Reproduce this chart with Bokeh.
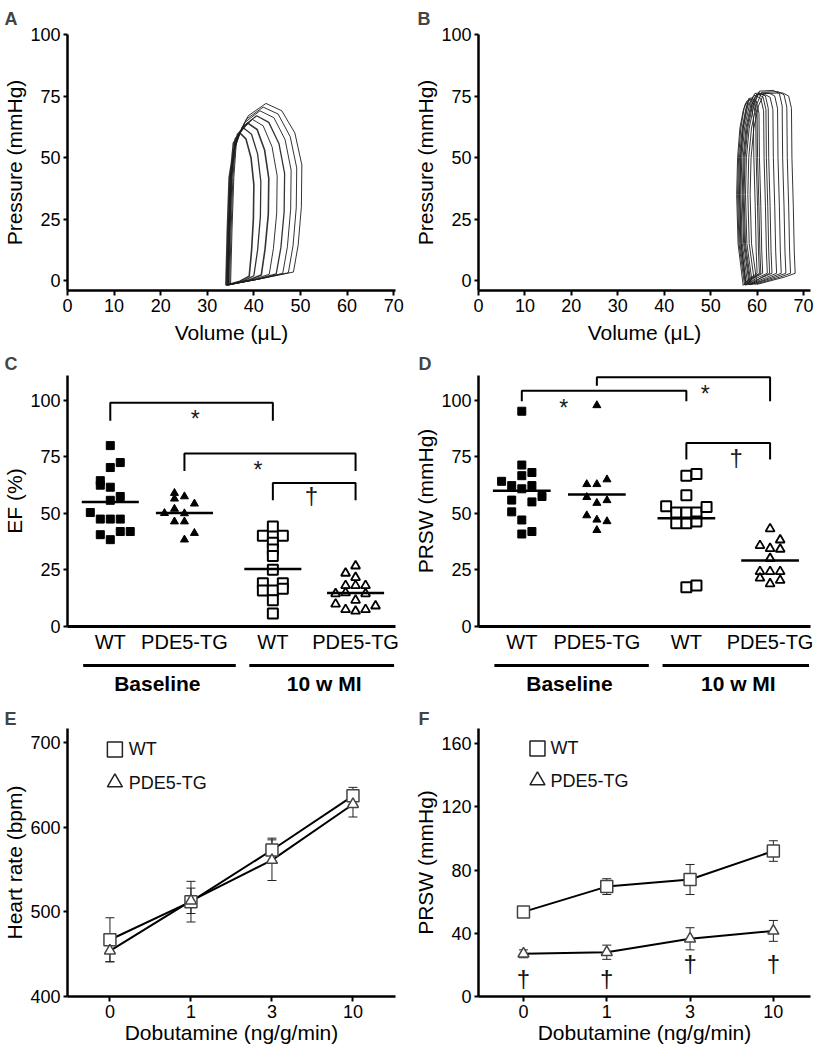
import numpy as np
from bokeh.plotting import figure
from bokeh.layouts import column, row
from bokeh.models import Range1d, Whisker, TeeHead, ColumnDataSource
from bokeh.core.properties import value
from bokeh.embed import file_html
from bokeh.resources import INLINE

FONT = "Liberation Sans"

# ---------------- DATA ----------------
# Panel A: PV loops, WT (volume uL, pressure mmHg)
A_loops_V = [
    [35.0, 35.3, 35.7, 36.3, 38.8, 42.6, 46.0, 48.8, 50.3, 50.2, 49.5, 48.5, 42.0, 35.0],
    [34.8, 35.1, 35.5, 36.1, 38.4, 42.0, 45.2, 47.8, 49.2, 49.1, 48.4, 47.4, 41.5, 34.8],
    [34.6, 34.9, 35.3, 35.9, 38.0, 41.3, 44.3, 46.7, 48.0, 47.9, 47.2, 46.2, 41.0, 34.6],
    [34.5, 34.8, 35.2, 35.8, 37.5, 40.6, 43.2, 45.4, 46.6, 46.5, 45.8, 44.8, 40.5, 34.5],
    [34.4, 34.7, 35.1, 35.7, 37.1, 39.7, 42.0, 43.9, 45.0, 44.9, 44.2, 43.3, 39.7, 34.4],
    [34.3, 34.6, 35.0, 35.6, 36.5, 38.7, 40.7, 42.3, 43.2, 43.1, 42.4, 41.6, 38.8, 34.3],
    [34.2, 34.5, 34.9, 35.5, 36.0, 37.8, 39.5, 40.8, 41.5, 41.4, 40.8, 40.0, 37.9, 34.2],
    [34.0, 34.3, 34.7, 35.2, 35.6, 37.0, 38.3, 39.4, 40.0, 39.9, 39.5, 39.0, 37.0, 34.0],
]
A_loops_P = [
    [-1.5, 20, 42, 57.6, 67.0, 72.0, 69.0, 60.0, 47.0, 30.0, 14.4, 3.5, 1.0, -1.5],
    [-1.6, 20, 42, 56.4, 65.6, 70.5, 67.7, 58.5, 45.8, 29.6, 14.1, 3.2, 0.8, -1.6],
    [-1.6, 20, 42, 55.2, 64.2, 69.0, 66.2, 57.3, 44.9, 29.0, 13.8, 3.0, 0.6, -1.6],
    [-1.7, 20, 42, 53.6, 62.3, 67.0, 64.3, 55.6, 43.6, 28.1, 13.4, 2.8, 0.5, -1.7],
    [-1.7, 20, 42, 52.4, 60.9, 65.5, 62.9, 54.4, 42.6, 27.5, 13.1, 2.6, 0.4, -1.7],
    [-1.8, 20, 42, 51.2, 59.5, 64.0, 61.4, 53.1, 41.6, 26.9, 12.8, 2.3, 0.2, -1.8],
    [-1.8, 20, 42, 49.6, 57.7, 62.0, 59.5, 51.5, 40.3, 26.0, 12.4, 2.0, 0.0, -1.8],
    [-1.9, 20, 42, 48.0, 55.8, 60.0, 57.6, 49.8, 39.0, 25.2, 12.0, 1.8, -0.2, -1.9],
]

# Panel B: PV loops, PDE5-TG
B_loops_V = [
    [60.0, 58.8, 58.5, 58.7, 59.3, 60.3, 61.5, 65.5, 66.8, 67.4, 67.5, 67.8, 68.0, 68.2, 66.0, 60.0],
    [59.5, 58.3, 58.0, 58.2, 58.8, 59.8, 61.0, 64.5, 65.8, 66.4, 66.5, 66.8, 67.0, 67.2, 65.0, 59.5],
    [59.0, 57.8, 57.5, 57.7, 58.3, 59.3, 60.5, 63.5, 64.8, 65.4, 65.5, 65.8, 66.0, 66.2, 64.0, 59.0],
    [58.7, 57.5, 57.2, 57.4, 58.0, 59.0, 60.2, 62.5, 63.8, 64.4, 64.5, 64.8, 65.0, 65.2, 63.0, 58.7],
    [58.3, 57.1, 56.8, 57.0, 57.6, 58.6, 59.8, 61.5, 62.8, 63.4, 63.5, 63.8, 64.0, 64.2, 62.0, 58.3],
    [58.0, 56.8, 56.5, 56.7, 57.3, 58.3, 59.5, 60.5, 61.8, 62.4, 62.5, 62.8, 63.0, 63.2, 61.0, 58.0],
    [57.7, 56.5, 56.2, 56.4, 57.0, 58.0, 59.2, 59.5, 60.8, 61.4, 61.5, 61.8, 62.0, 62.2, 60.0, 57.7],
    [57.5, 56.3, 56.0, 56.2, 56.8, 57.6, 58.2, 58.8, 59.8, 60.4, 60.5, 60.8, 61.0, 61.2, 59.2, 57.5],
    [57.3, 56.1, 55.8, 56.0, 56.5, 57.2, 57.8, 58.4, 59.2, 59.7, 59.8, 60.1, 60.3, 60.5, 58.7, 57.3],
    [57.0, 55.9, 55.6, 55.8, 56.3, 57.0, 57.5, 58.1, 58.8, 59.2, 59.3, 59.6, 59.8, 60.0, 58.3, 57.0],
    [58.5, 57.3, 57.0, 57.2, 57.8, 58.8, 59.8, 60.2, 61.3, 61.9, 62.0, 62.3, 62.5, 62.7, 60.7, 58.5],
    [57.6, 56.6, 56.3, 56.5, 57.0, 57.7, 58.2, 58.8, 59.5, 60.0, 60.1, 60.4, 60.6, 60.8, 59.0, 57.6],
]
B_loops_P = [
    [-1.5, 15, 35, 50, 62, 71, 76.0, 76.3, 75.0, 70.0, 50, 30, 12, 3, 1.5, -1.5],
    [-1.5, 15, 35, 50, 62, 71, 76.5, 76.8, 75.5, 70.5, 50, 30, 12, 3, 1.5, -1.5],
    [-1.5, 15, 35, 50, 62, 71, 77.0, 77.3, 76.0, 71.0, 50, 30, 12, 3, 1.5, -1.5],
    [-1.6, 15, 35, 50, 62, 71, 76.0, 76.3, 75.0, 70.0, 50, 30, 12, 3, 1.4, -1.6],
    [-1.6, 15, 35, 50, 62, 71, 75.5, 75.8, 74.5, 69.5, 50, 30, 12, 3, 1.3, -1.6],
    [-1.7, 15, 35, 50, 62, 71, 76.0, 76.3, 75.0, 70.0, 50, 30, 12, 3, 1.2, -1.7],
    [-1.7, 15, 35, 50, 62, 71, 75.0, 75.3, 74.0, 69.0, 50, 30, 12, 3, 1.1, -1.7],
    [-1.8, 15, 35, 50, 62, 70, 74.0, 74.2, 73.0, 68.0, 50, 30, 12, 3, 1.0, -1.8],
    [-1.8, 15, 35, 50, 62, 70, 73.0, 73.2, 72.0, 67.0, 50, 30, 12, 3, 0.9, -1.8],
    [-1.9, 15, 35, 50, 62, 69, 72.0, 72.2, 71.0, 66.0, 50, 30, 12, 3, 0.8, -1.9],
    [-1.7, 15, 35, 50, 62, 71, 75.5, 75.8, 74.5, 69.5, 50, 30, 12, 3, 1.1, -1.7],
    [-1.8, 15, 35, 50, 62, 70, 73.5, 73.7, 72.5, 67.5, 50, 30, 12, 3, 0.9, -1.8],
]

# Panels C/D: categories and groups
categories = ["WT", "PDE5-TG", "WT", "PDE5-TG"]
groups = ["Baseline", "10 w MI"]

# Panel C: EF (%)
C_wt_base = [80, 72.5, 70.3, 64.5, 62.5, 61.6, 57.5, 55.8, 50.4, 47.5, 47.5, 47.5, 42, 42, 40.6, 38.4]
C_tg_base = [59, 56.5, 57.5, 54.3, 50.1, 52, 50, 46.4, 46.4, 38.4, 41.3]
C_wt_mi = [40.1, 44.2, 40.1, 37, 34.1, 31.2, 25.1, 19.1, 19.1, 15.9, 15.9, 16.7, 11.6, 5.8]
C_tg_mi = [26.8, 23.6, 21.7, 18.1, 18.1, 18.1, 14.5, 14.9, 14.5, 11.6, 9.9, 7.5, 6.8, 7.5, 9.1]

# Panel D: PRSW (mmHg)
D_wt_base = [95.2, 71.4, 68.1, 66.7, 64.2, 62.3, 62.3, 60.9, 57.5, 55.9, 55.1, 50.7, 47.1, 42.0, 40.9]
D_tg_base = [97.8, 62.9, 62.9, 65.0, 57.2, 54.6, 55.8, 49.1, 47.2, 46.5, 42.6]
D_wt_mi = [66.7, 67.4, 58.0, 53.2, 50.4, 50.4, 50.4, 52.9, 45.7, 45.7, 46.4, 17.4, 18.1]
D_tg_mi = [43.2, 35.8, 34.5, 38.3, 34.2, 30.1, 24.3, 24.3, 24.3, 21.4, 18.9, 20.4]

# significance brackets: (from category, to category, top, left end, right end, symbol)
C_brackets = [(0, 2, 99.0, 91.0, 91.0, "*"), (1, 3, 76.5, 68.8, 68.8, "*"), (2, 3, 63.5, 55.8, 55.8, "\u2020")]
D_brackets = [(0, 2, 104.3, 99.6, 99.6, "*"), (1, 3, 110.2, 106.5, 99.6, "*"), (2, 3, 81.2, 73.9, 73.9, "\u2020")]

# Panels E/F: dobutamine dose response
dose_labels = ["0", "1", "3", "10"]
hr_wt = [467, 512, 573, 637]
hr_wt_sem = [26, 24, 14, 10]
hr_tg = [454, 513, 561, 627]
hr_tg_sem = [13, 15, 24, 15]
prsw_wt = [53.5, 69.5, 74.0, 92.0]
prsw_wt_sem = [2.0, 5.0, 9.5, 6.5]
prsw_tg = [27.0, 28.0, 36.5, 41.5]
prsw_tg_sem = [2.5, 4.5, 7.0, 6.6]

# ---------------- LAYOUT CONSTANTS (positions, not data) ----------------
cat_x = [0.60, 1.64, 2.88, 4.04]
jit = 0.14
C_off = [[0, 1, 0, -1, -1, 0, 1, 0, -2, -1, 0, 1, 1, 2, -1, 0],
         [-1, -1, 0, 1, -2, -1, 0, -1, 0, 0, 1],
         [-1, 0, 1, 0, 0, 0, 0, -1, 1, -1, 0, 1, 0, 0],
         [0, -1, 0, -1, 0, 1, -2, -1, 1, 0, -2, -1, 0, 1, 2]]
D_off = [[0, 0, 1, 0, -2, -1, 1, 0, 2, -1, 1, -1, 0, 1, 0],
         [0, -1, 0, 1, -1, 0, 1, -1, 0, 1, 0],
         [0, 1, 0, -2, -1, 0, 1, 2, 0, -1, 1, 0, 1],
         [0, -1, 0, 1, 1, 0, -1, 0, 1, -1, 0, 1]]
C_sym_xy = [(1.79, 94.5), (2.67, 71.7), (3.42, 58.0)]
D_sym_xy = [(1.18, 99.3), (3.14, 105.4), (3.57, 74.6)]
group_x0 = [0.22, 2.55]
group_x1 = [2.36, 4.58]
group_xc = [1.26, 3.60]
dagger_F_y = [11.3, 11.3, 20.7, 20.7]
A_loop_widths = [1, 1, 1, 1.3, 1, 1.6, 1.3, 1.6]


def base_fig(title, width, height, xr, yr, mbl, mbr, mbt, mbb, t_off, t_stand):
    p = figure(width=width, height=height, x_range=Range1d(*xr), y_range=Range1d(*yr),
               output_backend="svg", toolbar_location=None, title=title,
               min_border_left=mbl, min_border_right=mbr,
               min_border_top=mbt, min_border_bottom=mbb)
    p.grid.visible = False
    p.outline_line_color = None
    p.background_fill_color = "white"
    p.border_fill_color = "white"
    p.title.align = "left"
    p.title.offset = t_off
    p.title.text_font = FONT
    p.title.text_font_size = "18px"
    p.title.text_font_style = "bold"
    p.title.standoff = t_stand
    for ax in p.axis:
        ax.axis_line_width = 2.5
        ax.axis_line_color = "black"
        ax.major_tick_line_width = 2
        ax.major_tick_line_color = "black"
        ax.major_tick_in = 0
        ax.major_tick_out = 5
        ax.minor_tick_line_color = None
        ax.major_label_text_font = FONT
        ax.major_label_text_font_size = "18px"
        ax.major_label_text_color = "black"
        ax.axis_label_text_font = FONT
        ax.axis_label_text_font_size = "21px"
        ax.axis_label_text_font_style = "normal"
        ax.axis_label_text_color = "black"
        ax.major_label_standoff = 3
        ax.axis_label_standoff = 1
    p.yaxis.major_tick_out = 4
    return p


LW, RW = 410, 405
L_MBL, L_MBR = 63, 15
R_MBL, R_MBR = 68, 5


# ----- Row 1: PV loops -----
def pv_fig(title, width, mbl, mbr, xend, xs, ys, t_off, widths):
    p = base_fig(title, width, 350, (0, xend), (-4, 100), mbl, mbr, 33, 60, t_off, 12)
    p.xaxis.ticker = [0, 10, 20, 30, 40, 50, 60, 70]
    p.yaxis.ticker = [0, 25, 50, 75, 100]
    p.xaxis.axis_label = "Volume (\u03bcL)"
    p.yaxis.axis_label = "Pressure (mmHg)"
    p.xaxis.axis_label_standoff = 6
    src = ColumnDataSource(dict(xs=xs, ys=ys, w=widths))
    p.multi_line(xs="xs", ys="ys", line_width="w", source=src, line_color="#1e1e1e", line_alpha=0.9)
    return p

pA = pv_fig("A", LW, L_MBL, L_MBR, 70.4, A_loops_V, A_loops_P, -63, A_loop_widths)
pB = pv_fig("B", RW, R_MBL, R_MBR, 71.5, B_loops_V, B_loops_P, -61, [1] * len(B_loops_V))


# ----- Row 2: scatter panels -----
def scatter_fig(title, width, mbl, mbr, ylabel, vals, offs, brackets, sym_xy, t_off):
    p = base_fig(title, width, 305, (0, 4.6), (0, 111), mbl, mbr, 25, 27, t_off, 3)
    p.yaxis.ticker = [0, 25, 50, 75, 100]
    p.yaxis.axis_label = ylabel
    p.xaxis.ticker = cat_x
    p.xaxis.major_label_overrides = {cat_x[i]: categories[i] for i in range(4)}
    p.xaxis.major_tick_out = 0
    p.xaxis.axis_line_width = 3
    p.xaxis.major_label_text_font_size = "20px"
    p.xaxis.major_label_standoff = 4
    styles = [
        dict(marker="square", size=8, fill_color="black", line_color="black", line_width=1),
        dict(marker="triangle", size=8, fill_color="black", line_color="black", line_width=1),
        dict(marker="square", size=10, fill_color="white", line_color="black", line_width=2),
        dict(marker="triangle", size=9, fill_color="white", line_color="black", line_width=1.8),
    ]
    for i in range(4):
        xs = [cat_x[i] + o * jit for o in offs[i]]
        p.scatter(x=xs, y=vals[i], **styles[i])
    means = [float(np.mean(v)) for v in vals]
    p.segment(x0=[c - 0.4 for c in cat_x], x1=[c + 0.4 for c in cat_x],
              y0=means, y1=means, line_color="black", line_width=2.5)
    bx, by = [], []
    for (a, b, top, yl, yr, s) in brackets:
        bx.append([cat_x[a], cat_x[a], cat_x[b], cat_x[b]])
        by.append([yl, top, top, yr])
    p.multi_line(xs=bx, ys=by, line_color="black", line_width=2)
    syms = [b[5] for b in brackets]
    ast = [i for i, s in enumerate(syms) if s == "*"]
    dag = [i for i, s in enumerate(syms) if s != "*"]
    p.text(x=[sym_xy[i][0] for i in ast], y=[sym_xy[i][1] for i in ast], text=[syms[i] for i in ast],
           text_font=value(FONT), text_font_size="23px", text_align="center",
           text_baseline="middle", y_offset=6, text_color="#1a1a1a")
    p.text(x=[sym_xy[i][0] for i in dag], y=[sym_xy[i][1] for i in dag], text=[syms[i] for i in dag],
           text_font=value(FONT), text_font_size="24px", text_align="center",
           text_baseline="middle", text_color="#1a1a1a")
    return p


def group_fig(width, mbl, mbr, xr):
    g = figure(width=width, height=40, x_range=xr, y_range=Range1d(0, 40),
               output_backend="svg", toolbar_location=None,
               x_axis_location=None, y_axis_location=None,
               min_border_left=mbl, min_border_right=mbr, min_border_top=0, min_border_bottom=0)
    g.grid.visible = False
    g.outline_line_color = None
    g.segment(x0=group_x0, x1=group_x1, y0=[30, 30], y1=[30, 30], line_color="black", line_width=3)
    g.text(x=group_xc, y=[12, 12], text=groups, text_font=value(FONT), text_font_size="21px",
           text_font_style="bold", text_align="center", text_baseline="middle", text_color="black")
    return g


pC = scatter_fig("C", LW, L_MBL, L_MBR, "EF (%)",
                 [C_wt_base, C_tg_base, C_wt_mi, C_tg_mi], C_off, C_brackets, C_sym_xy, -63)
gC = group_fig(LW, L_MBL, L_MBR, pC.x_range)
pD = scatter_fig("D", RW, R_MBL, R_MBR, "PRSW (mmHg)",
                 [D_wt_base, D_tg_base, D_wt_mi, D_tg_mi], D_off, D_brackets, D_sym_xy, -60)
gD = group_fig(RW, R_MBL, R_MBR, pD.x_range)


# ----- Row 3: dobutamine -----
def dose_fig(title, width, mbl, mbr, xr, yr, yticks, ylabel, wt, wt_e, tg, tg_e,
             leg_x, leg_y, txt_x, t_off):
    p = base_fig(title, width, 353, xr, yr, mbl, mbr, 33, 52, t_off, 0)
    x = list(range(len(dose_labels)))
    p.xaxis.ticker = x
    p.xaxis.major_label_overrides = {i: dose_labels[i] for i in x}
    p.xaxis.axis_label = "Dobutamine (ng/g/min)"
    p.xaxis.major_label_standoff = 3
    p.xaxis.axis_label_standoff = 0
    p.yaxis.ticker = yticks
    p.yaxis.axis_label = ylabel
    p.line(x, wt, line_color="black", line_width=2)
    p.line(x, tg, line_color="black", line_width=2)
    for vals, err in ((wt, wt_e), (tg, tg_e)):
        src = ColumnDataSource(dict(x=x, up=[v + e for v, e in zip(vals, err)],
                                    lo=[v - e for v, e in zip(vals, err)]))
        w = Whisker(base="x", upper="up", lower="lo", source=src, dimension="height",
                    line_color="#222222", line_width=1,
                    upper_head=TeeHead(size=9, line_width=1, line_color="#222222"),
                    lower_head=TeeHead(size=9, line_width=1, line_color="#222222"))
        p.add_layout(w)
    p.scatter(x, wt, marker="square", size=12, fill_color="white", line_color="#444444", line_width=1.5)
    p.scatter(x, tg, marker="triangle", size=11, fill_color="white", line_color="#444444", line_width=1.5)
    # legend
    p.scatter([leg_x, leg_x], leg_y, marker=["square", "triangle"], size=15,
              fill_color="white", line_color="#222222", line_width=1.5)
    p.text([txt_x, txt_x], leg_y, text=["WT", "PDE5-TG"], text_font=value(FONT),
           text_font_size="18px", text_baseline="middle", text_align="left", text_color="#111111")
    return p


pE = dose_fig("E", LW, L_MBL, L_MBR, (-0.524, 3.525), (400, 716.5), [400, 500, 600, 700],
              "Heart rate (bpm)", hr_wt, hr_wt_sem, hr_tg, hr_tg_sem,
              0.061, [691.7, 652.7], 0.232, -63)
pF = dose_fig("F", RW, R_MBL, R_MBR, (-0.54, 3.446), (0, 169.5), [0, 40, 80, 120, 160],
              "PRSW (mmHg)", prsw_wt, prsw_wt_sem, prsw_tg, prsw_tg_sem,
              0.168, [156.9, 136.6], 0.324, -60)
pF.text(x=list(range(4)), y=dagger_F_y, text=["\u2020"] * 4, text_font=value(FONT),
        text_font_size="24px", text_align="center", text_baseline="middle", text_color="#111111")

layout = column(row(pA, pB), row(column(pC, gC), column(pD, gD)), row(pE, pF))

open("out.html", "w").write(file_html(layout, INLINE, "PDE5 figure"))
